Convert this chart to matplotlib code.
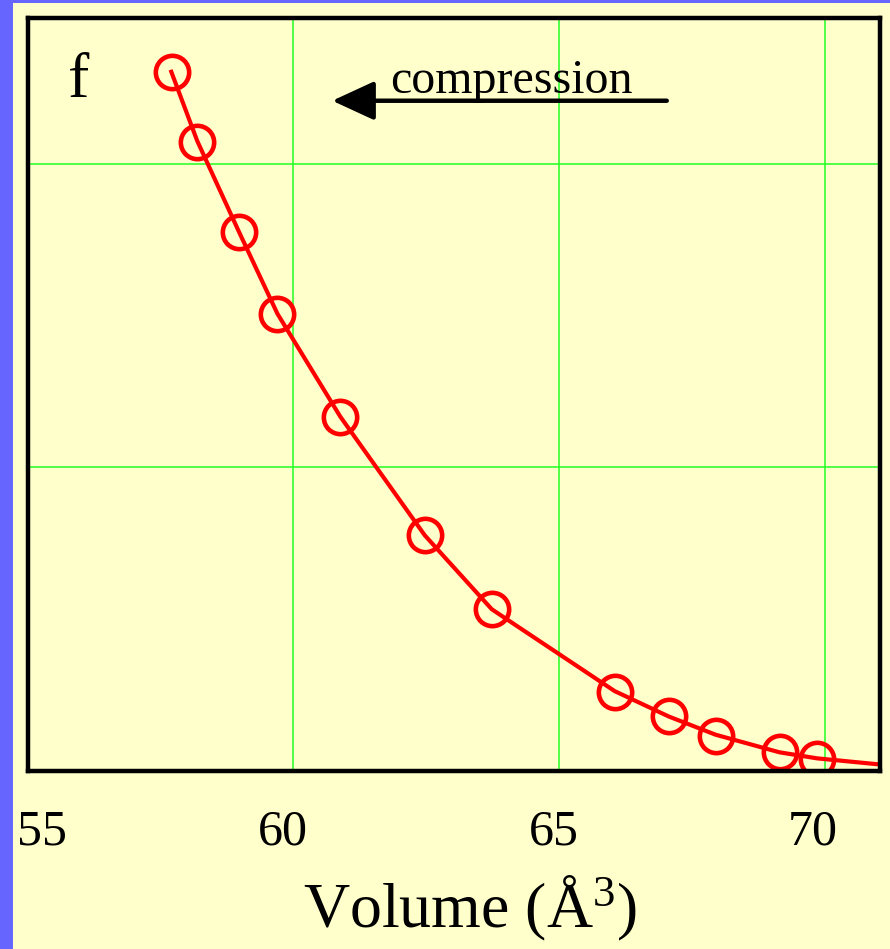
import matplotlib
matplotlib.use("Agg")
import matplotlib.pyplot as plt
from matplotlib.patches import Rectangle
from matplotlib.transforms import ScaledTranslation

# ---- data ----
volume = [57.71, 58.19, 58.98, 59.70, 60.88, 62.47, 63.73, 66.04, 67.06, 67.94, 69.14, 69.85]
f_vals = [2.305, 2.075, 1.776, 1.507, 1.168, 0.776, 0.532, 0.260, 0.180, 0.114, 0.060, 0.038]

fit_volume = [57.69, 58.19, 58.98, 59.70, 60.88, 62.47, 63.73, 66.04, 67.06, 67.94, 69.14, 69.85, 71.02]
fit_f = [2.312, 2.078, 1.776, 1.507, 1.168, 0.776, 0.532, 0.262, 0.178, 0.118, 0.060, 0.040, 0.020]

xticks = [55, 60, 65, 70]
xtick_labels = ["55", "60", "65", "70"]
xlabel = "Volume (Å$^3$)"
panel_label = "f"
note = "compression"

plt.rcParams['mathtext.fontset'] = 'custom'
plt.rcParams['mathtext.rm'] = 'Liberation Serif'
plt.rcParams['mathtext.it'] = 'Liberation Serif:italic'
plt.rcParams['font.family'] = ['Liberation Serif', 'DejaVu Serif']

BG = '#ffffcc'
BLUE = '#6666ff'
GREEN = '#22ff22'
RED = '#ff0000'

fig = plt.figure(figsize=(8.9, 9.49), dpi=100, facecolor=BG)
W, H = 890, 949
# blue strips at the left and top edge
fig.add_artist(Rectangle((0, 0), 12.5 / W, 1, transform=fig.transFigure, color=BLUE, lw=0, zorder=0))
fig.add_artist(Rectangle((0, 1 - 2.5 / H), 1, 2.5 / H, transform=fig.transFigure, color=BLUE, lw=0, zorder=0))

ax = fig.add_axes([27.5 / W, (H - 770.5) / H, 852 / W, 752.5 / H])
ax.set_facecolor(BG)
ax.set_xlim(55, 71.02)
ax.set_ylim(0, 2.483)

ax.set_xticks(xticks)
ax.set_xticklabels(xtick_labels)
ax.set_yticks([1, 2])
ax.tick_params(axis='y', length=0, labelleft=False)
ax.tick_params(axis='x', length=0, labelsize=36, pad=28)
ax.grid(True, color=GREEN, lw=1.1)
ax.set_axisbelow(True)

# shift tick labels to match the hand-placed positions
offsets_px = [14, -11, -5, -13]
for lab, dx in zip(ax.get_xticklabels(), offsets_px):
    lab.set_transform(lab.get_transform() + ScaledTranslation(dx / 100, 0, fig.dpi_scale_trans))

for s in ax.spines.values():
    s.set_linewidth(3.2)
    s.set_color('black')
    s.set_zorder(5)

ax.plot(fit_volume, fit_f, color=RED, lw=3.0, zorder=3, solid_capstyle='butt')
ax.plot(volume, f_vals, ls='none', marker='o', ms=24, mfc='none', mec=RED, mew=3.3, zorder=4)

ax.set_xlabel(xlabel, fontsize=46)
ax.xaxis.label.set_va('baseline')
ax.xaxis.set_label_coords((470 - 27.5) / 852, (770.5 - 927) / 752.5)

ax.text((68 - 27.5) / 852, (770.5 - 97) / 752.5, panel_label, transform=ax.transAxes,
        fontsize=46, va='baseline', ha='left')
ax.text((390 - 27.5) / 852, (770.5 - 92.7) / 752.5, note, transform=ax.transAxes,
        fontsize=34.5, va='baseline', ha='left')
ax.annotate('', xy=(60.73, 2.21), xytext=(67.02, 2.21),
            arrowprops=dict(arrowstyle='-|>,head_length=1.3,head_width=0.6', lw=3.2,
                            color='black', mutation_scale=20, shrinkA=0, shrinkB=0))

fig.savefig('out.png', dpi=100, facecolor=BG)
